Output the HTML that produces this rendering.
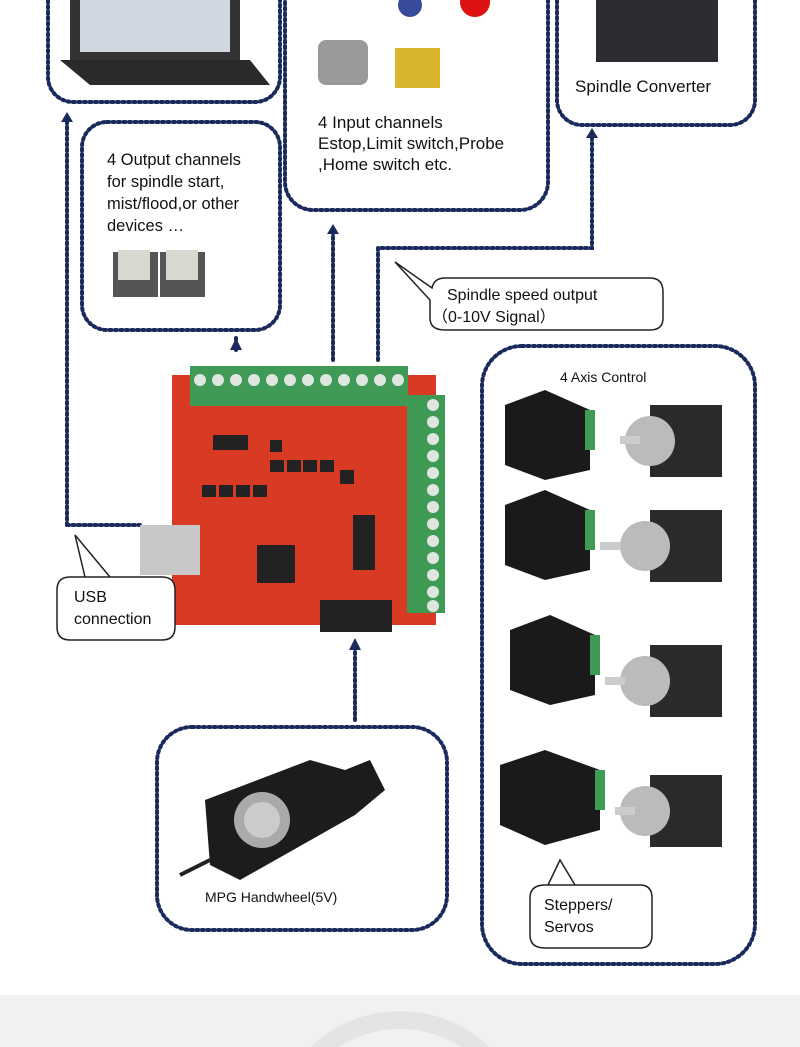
<!DOCTYPE html>
<html><head><meta charset="utf-8"><style>
html,body{margin:0;padding:0;width:800px;height:1047px;overflow:hidden;background:#fff;}
svg{display:block;font-family:"Liberation Sans",sans-serif;}
</style></head><body>
<svg width="800" height="1047" viewBox="0 0 800 1047" xmlns="http://www.w3.org/2000/svg">
<defs><clipPath id="c"><rect width="800" height="1047"/></clipPath></defs>
<g clip-path="url(#c)">
<rect width="800" height="1047" fill="#fff"/>
<rect y="995" width="800" height="52" fill="#f1f1f1"/>
<circle cx="400" cy="1140" r="120" fill="none" stroke="#e4e4e4" stroke-width="18"/>
<g fill="none" stroke="#1b2a5c" stroke-width="4" stroke-dasharray="2 3.5" stroke-linecap="round">
<rect x="48" y="-30" width="232" height="132" rx="25"/>
<rect x="285" y="-30" width="263" height="240" rx="28"/>
<rect x="557" y="-30" width="198" height="155" rx="25"/>
<rect x="82" y="122" width="198" height="208" rx="25"/>
<rect x="482" y="346" width="273" height="618" rx="40"/>
<rect x="157" y="727" width="290" height="203" rx="35"/>
<path d="M67 525 V122"/><path d="M67 525 H140"/>
<path d="M236 338 V350"/>
<path d="M333 360 V232"/>
<path d="M378 360 V248 H592 V136"/>
<path d="M355 720 V650"/>
</g>
<g fill="#1b2a5c">
<path d="M61 122 L67 112 L73 122Z"/><path d="M230 350 L236 338 L242 350Z"/>
<path d="M327 234 L333 224 L339 234Z"/><path d="M586 138 L592 128 L598 138Z"/>
<path d="M349 650 L355 638 L361 650Z"/>
</g>
<rect x="70" y="0" width="170" height="60" fill="#333"/><rect x="80" y="0" width="150" height="52" fill="#cfd8e0"/>
<path d="M60 60 H250 L270 85 H90Z" fill="#2a2a2a"/>
<rect x="318" y="40" width="50" height="45" rx="8" fill="#999"/><rect x="395" y="48" width="45" height="40" fill="#d6b52a"/>
<circle cx="410" cy="5" r="12" fill="#3a4a9a"/><circle cx="475" cy="2" r="15" fill="#d11"/>
<rect x="596" y="0" width="122" height="62" fill="#2b2d30"/>
<text x="575" y="92" font-size="17" fill="#111">Spindle Converter</text>
<text x="318" y="128" font-size="17" fill="#111">4 Input channels</text>
<text x="318" y="149" font-size="17" fill="#111">Estop,Limit switch,Probe</text>
<text x="318" y="170" font-size="17" fill="#111">,Home switch etc.</text>
<text x="107" y="165" font-size="16.5" fill="#111">4 Output channels</text>
<text x="107" y="187" font-size="16.5" fill="#111">for spindle start,</text>
<text x="107" y="209" font-size="16.5" fill="#111">mist/flood,or other</text>
<text x="107" y="231" font-size="16.5" fill="#111">devices …</text>
<rect x="113" y="252" width="45" height="45" fill="#555"/><rect x="160" y="252" width="45" height="45" fill="#555"/>
<rect x="118" y="250" width="32" height="30" fill="#d8d8d0"/><rect x="166" y="250" width="32" height="30" fill="#d8d8d0"/>
<path d="M445 278 H650 Q663 278 663 292 V318 Q663 330 650 330 H445 Q430 330 430 318 V300 L395 262 L432 288 Q434 278 445 278Z" fill="#fff" stroke="#222" stroke-width="1.5"/>
<text x="447" y="300" font-size="16" fill="#111">Spindle speed output</text>
<text x="432" y="322" font-size="16" fill="#111">（0-10V Signal）</text>
<rect x="172" y="375" width="264" height="250" fill="#d93a24"/>
<rect x="190" y="366" width="218" height="40" fill="#3f9a55"/>
<g fill="#dfe6e0">
<circle cx="200" cy="380" r="6"/><circle cx="218" cy="380" r="6"/><circle cx="236" cy="380" r="6"/><circle cx="254" cy="380" r="6"/><circle cx="272" cy="380" r="6"/><circle cx="290" cy="380" r="6"/><circle cx="308" cy="380" r="6"/><circle cx="326" cy="380" r="6"/><circle cx="344" cy="380" r="6"/><circle cx="362" cy="380" r="6"/><circle cx="380" cy="380" r="6"/><circle cx="398" cy="380" r="6"/>
</g>
<rect x="407" y="395" width="38" height="218" fill="#3f9a55"/>
<g fill="#dfe6e0">
<circle cx="433" cy="405" r="6"/><circle cx="433" cy="422" r="6"/><circle cx="433" cy="439" r="6"/><circle cx="433" cy="456" r="6"/><circle cx="433" cy="473" r="6"/><circle cx="433" cy="490" r="6"/><circle cx="433" cy="507" r="6"/><circle cx="433" cy="524" r="6"/><circle cx="433" cy="541" r="6"/><circle cx="433" cy="558" r="6"/><circle cx="433" cy="575" r="6"/><circle cx="433" cy="592" r="6"/><circle cx="433" cy="606" r="6"/>
</g>
<g fill="#222">
<rect x="213" y="435" width="35" height="15"/><rect x="270" y="440" width="12" height="12"/>
<rect x="270" y="460" width="14" height="12"/><rect x="287" y="460" width="14" height="12"/><rect x="303" y="460" width="14" height="12"/><rect x="320" y="460" width="14" height="12"/><rect x="340" y="470" width="14" height="14"/>
<rect x="202" y="485" width="14" height="12"/><rect x="219" y="485" width="14" height="12"/><rect x="236" y="485" width="14" height="12"/><rect x="253" y="485" width="14" height="12"/>
<rect x="257" y="545" width="38" height="38"/><rect x="353" y="515" width="22" height="55"/>
<rect x="320" y="600" width="72" height="32"/>
</g>
<rect x="140" y="525" width="60" height="50" fill="#c8c8c8"/>
<path d="M70 577 H162 Q175 577 175 590 V627 Q175 640 162 640 H70 Q57 640 57 627 V590 Q57 577 70 577Z M85 577 L75 535 L110 577" fill="#fff" stroke="#222" stroke-width="1.5"/>
<text x="74" y="602" font-size="16" fill="#111">USB</text>
<text x="74" y="624" font-size="16" fill="#111">connection</text>
<text x="560" y="382" font-size="14" fill="#111">4 Axis Control</text>
<g>
<path d="M505 405 L545 390 L590 410 V470 L545 480 L505 465Z" fill="#1a1a1a"/><rect x="585" y="410" width="10" height="40" fill="#3f9a55"/>
<rect x="650" y="405" width="72" height="72" fill="#2a2a2a"/><circle cx="650" cy="441" r="25" fill="#bbb"/><rect x="620" y="436" width="20" height="8" fill="#ccc"/>
</g>
<g transform="translate(0,100)">
<path d="M505 405 L545 390 L590 410 V470 L545 480 L505 465Z" fill="#1a1a1a"/><rect x="585" y="410" width="10" height="40" fill="#3f9a55"/>
<rect x="650" y="410" width="72" height="72" fill="#2a2a2a"/><circle cx="645" cy="446" r="25" fill="#bbb"/><rect x="600" y="442" width="20" height="8" fill="#ccc"/>
</g>
<g transform="translate(5,225)">
<path d="M505 405 L545 390 L590 410 V470 L545 480 L505 465Z" fill="#1a1a1a"/><rect x="585" y="410" width="10" height="40" fill="#3f9a55"/>
<rect x="645" y="420" width="72" height="72" fill="#2a2a2a"/><circle cx="640" cy="456" r="25" fill="#bbb"/><rect x="600" y="452" width="20" height="8" fill="#ccc"/>
</g>
<g transform="translate(0,360)">
<path d="M500 405 L545 390 L600 410 V470 L545 485 L500 465Z" fill="#1a1a1a"/><rect x="595" y="410" width="10" height="40" fill="#3f9a55"/>
<rect x="650" y="415" width="72" height="72" fill="#2a2a2a"/><circle cx="645" cy="451" r="25" fill="#bbb"/><rect x="615" y="447" width="20" height="8" fill="#ccc"/>
</g>
<path d="M545 885 H640 Q652 885 652 898 V935 Q652 948 640 948 H545 Q530 948 530 935 V898 Q530 885 545 885Z M548 885 L560 860 L575 885" fill="#fff" stroke="#222" stroke-width="1.5"/>
<text x="544" y="910" font-size="16" fill="#111">Steppers/</text>
<text x="544" y="932" font-size="16" fill="#111">Servos</text>
<path d="M205 800 L310 760 L345 770 L370 760 L385 790 L355 815 L240 880 L210 865Z" fill="#1c1c1c"/>
<circle cx="262" cy="820" r="28" fill="#aaa"/><circle cx="262" cy="820" r="18" fill="#ccc"/>
<path d="M210 860 Q190 870 180 875" stroke="#222" stroke-width="4" fill="none"/>
<text x="205" y="902" font-size="14" fill="#111">MPG Handwheel(5V)</text>
</g>
</svg>
</body></html>
